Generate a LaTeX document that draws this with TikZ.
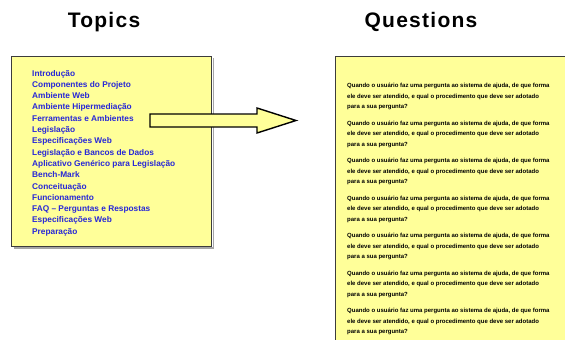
\documentclass[tikz,border=0pt]{standalone}
\usepackage{fontspec}
\setmainfont{Liberation Sans}
\definecolor{paper}{RGB}{255,255,153}
\definecolor{topicblue}{RGB}{40,40,215}
\definecolor{frame}{RGB}{60,60,60}
\begin{document}
\begin{tikzpicture}[x=1pt,y=-1pt,
  title/.style={font=\fontsize{21}{24}\selectfont\bfseries\addfontfeature{LetterSpace=6}, inner sep=0pt},
  topic/.style={font=\fontsize{8.3}{9}\selectfont\bfseries, text=topicblue, inner sep=0pt, anchor=base west},
  qline/.style={font=\fontsize{6}{7}\selectfont\bfseries, text=black, inner sep=0pt, anchor=base west},
  sheet/.style={fill=paper, draw=frame, line width=1.6pt},
  shadow/.style={draw=gray!70, line width=1.4pt}]
\useasboundingbox (0,0) rectangle (565,340);
\begin{scope}
\clip (0,0) rectangle (565,340);
% titles
\node[title] (ttopics) at (104,22) {Topics};
\node[title] (tquestions) at (421,22) {Questions};
% topics sheet
\draw[shadow] (13.5,248) -- (213.5,248) -- (213.5,58);
\draw[sheet] (11.5,56.5) rectangle (211.5,246.5);
\coordinate (tsheet) at (111.5,151.5);
\foreach \t [count=\i from 0] in {Introdução,Componentes do Projeto,Ambiente Web,Ambiente Hipermediação,Ferramentas e Ambientes,Legislação,Especificações Web,Legislação e Bancos de Dados,Aplicativo Genérico para Legislação,Bench-Mark,Conceituação,Funcionamento,FAQ – Perguntas e Respostas,Especificações Web,Preparação}
  \node[topic] (topic\i) at (32,{76+11.3*\i}) {\t};
% questions sheet
\draw[sheet] (335.5,56.5) rectangle (580,360);
\foreach \p in {0,...,6}{
  \node[qline] (q\p a) at (347,{87.5+37.5*\p}) {Quando o usuário faz uma pergunta ao sistema de ajuda, de que forma};
  \node[qline] (q\p b) at (347,{98+37.5*\p}) {ele deve ser atendido, e qual o procedimento que deve ser adotado};
  \node[qline] (q\p c) at (347,{108.5+37.5*\p}) {para a sua pergunta?};
}
% arrow
\draw[fill=paper, draw=black, line width=1.4pt, line join=miter]
  (150,114) -- (257,114) -- (257,108) -- (296,120.5) -- (257,133) -- (257,127) -- (150,127) -- cycle;
\end{scope}
\end{tikzpicture}
\end{document}
